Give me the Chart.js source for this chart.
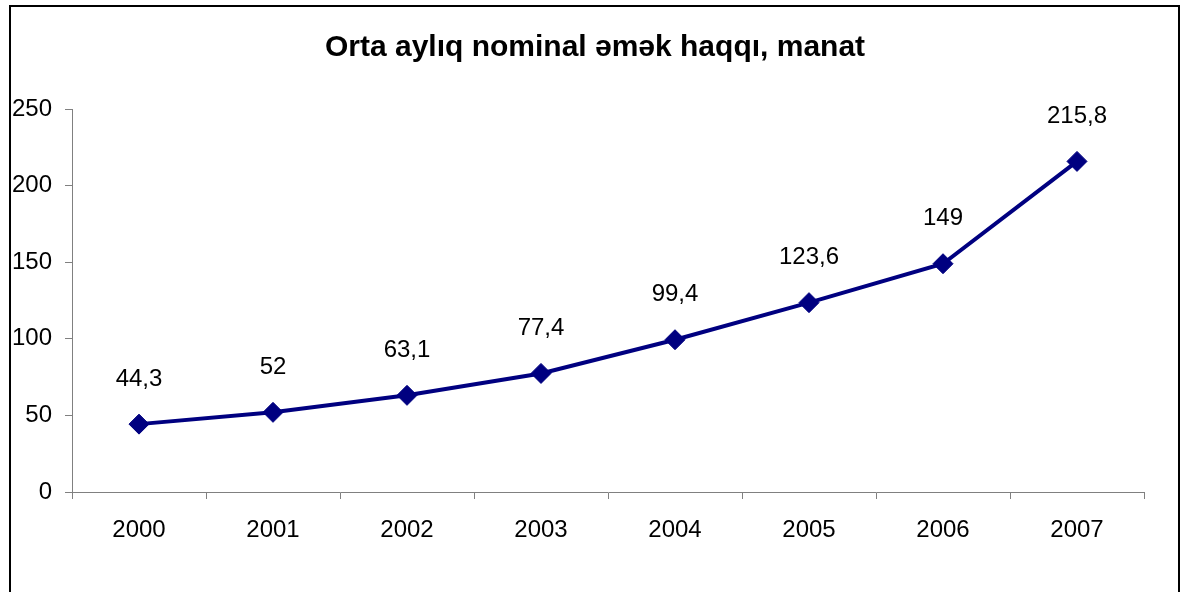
<!DOCTYPE html>
<html>
<head>
<meta charset="utf-8">
<script src="https://cdn.jsdelivr.net/npm/chart.js@4"></script>
<style>
  html, body { margin: 0; padding: 0; background: #fff; }
  #wrap { width: 1186px; height: 592px; }
</style>
</head>
<body>
<div id="wrap"><canvas id="wageChart" width="1186" height="592"></canvas></div>
<script>
const years = ["2000", "2001", "2002", "2003", "2004", "2005", "2006", "2007"];
const wages = [44.3, 52, 63.1, 77.4, 99.4, 123.6, 149, 215.8];
const yTicks = [0, 50, 100, 150, 200, 250];
const chartTitle = "Orta aylıq nominal əmək haqqı, manat";

const FONT = "'Liberation Sans', Arial, sans-serif";

// white page, black frame and the title centred on the whole picture
const framePlugin = {
    id: "frame",
    beforeDraw(chart) {
        const c = chart.ctx;
        c.save();
        c.fillStyle = "#ffffff";
        c.fillRect(0, 0, chart.width, chart.height);
        c.strokeStyle = "#000000";
        c.lineWidth = 2;
        c.strokeRect(10, 6, 1169, 700);
        c.font = "bold 30px " + FONT;
        c.fillStyle = "#000000";
        c.textAlign = "center";
        c.textBaseline = "middle";
        c.fillText(chartTitle, 595, 48);
        c.restore();
    }
};

// value labels above each point, with decimal comma
const valueLabels = {
    id: "valueLabels",
    afterDatasetsDraw(chart) {
        const c = chart.ctx;
        const meta = chart.getDatasetMeta(0);
        c.save();
        c.font = "24px " + FONT;
        c.fillStyle = "#000000";
        c.textAlign = "center";
        c.textBaseline = "middle";
        meta.data.forEach((pt, i) => {
            const txt = String(wages[i]).replace(".", ",");
            c.fillText(txt, pt.x, pt.y - 45);
        });
        c.restore();
    }
};

new Chart(document.getElementById("wageChart").getContext("2d"), {
    type: "line",
    data: {
        labels: years,
        datasets: [{
            data: wages,
            borderColor: "#000080",
            backgroundColor: "#000080",
            borderWidth: 4,
            tension: 0,
            pointStyle: "rectRot",
            pointRadius: 10,
            pointBorderWidth: 1,
            pointBackgroundColor: "#000080",
            pointBorderColor: "#000080"
        }]
    },
    options: {
        responsive: false,
        animation: false,
        layout: { padding: { left: 0, right: 42, top: 109, bottom: 0 } },
        plugins: {
            legend: { display: false },
            tooltip: { enabled: false },
            title: { display: false }
        },
        scales: {
            y: {
                min: 0,
                max: 250,
                afterBuildTicks(s) { s.ticks = yTicks.map(v => ({ value: v })); },
                afterFit(s) { s.width = 72; },
                border: { color: "#808080", width: 1 },
                grid: { drawOnChartArea: false, drawTicks: true, tickLength: 7, color: "#808080" },
                ticks: {
                    padding: 13,
                    color: "#000000",
                    font: { family: FONT, size: 24 }
                }
            },
            x: {
                offset: true,
                afterFit(s) { s.height = 100; },
                border: { color: "#808080", width: 1 },
                grid: { offset: true, drawOnChartArea: false, drawTicks: true, tickLength: 7, color: "#808080" },
                ticks: {
                    padding: 17,
                    maxRotation: 0,
                    color: "#000000",
                    font: { family: FONT, size: 24 }
                }
            }
        }
    },
    plugins: [framePlugin, valueLabels]
});
</script>
</body>
</html>
